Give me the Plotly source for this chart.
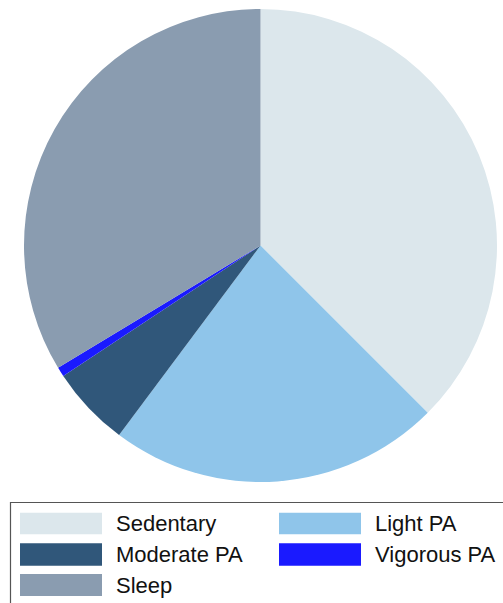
import plotly.graph_objects as go

categories = ["Sedentary", "Light PA", "Moderate PA", "Vigorous PA", "Sleep"]
values = [37.5, 22.7, 5.5, 0.65, 33.65]
colors = ["#dce7ec", "#8fc5ea", "#30577a", "#1a1aff", "#8a9cb0"]

W, H = 503, 603

fig = go.Figure(go.Pie(
    labels=categories, values=values, sort=False, direction="clockwise",
    rotation=0, marker=dict(colors=colors, line=dict(width=0)),
    textinfo="none", hoverinfo="label+percent", showlegend=False,
    domain=dict(x=[24 / W, 497 / W], y=[1 - 482 / H, 1 - 9 / H]),
))

shapes = []
annotations = []
# legend frame
shapes.append(dict(type="rect", xref="paper", yref="paper",
                   x0=10.5 / W, x1=1.2, y0=-0.2, y1=1 - 502.5 / H,
                   line=dict(color="#555555", width=1.2), fillcolor="rgba(0,0,0,0)"))
# legend order: row-major in two columns
legend_order = ["Sedentary", "Light PA", "Moderate PA", "Vigorous PA", "Sleep"]
col_x = [20, 279]
text_x = [114, 373]
row_y = [[512.7, 534.3], [543.3, 565.7], [574, 596]]
for i, name in enumerate(legend_order):
    r, c = divmod(i, 2)
    idx = categories.index(name)
    y0, y1 = row_y[r]
    shapes.append(dict(type="rect", xref="paper", yref="paper",
                       x0=col_x[c] / W, x1=(col_x[c] + 82) / W,
                       y0=1 - y1 / H, y1=1 - y0 / H,
                       line=dict(width=0), fillcolor=colors[idx]))
    annotations.append(dict(text=name, xref="paper", yref="paper",
                            x=text_x[c] / W, y=1 - (y0 + y1) / 2 / H,
                            xanchor="left", yanchor="middle", showarrow=False,
                            font=dict(family="Liberation Sans, Arial", size=22, color="#111111")))

fig.update_layout(width=W, height=H, margin=dict(l=0, r=0, t=0, b=0),
                  paper_bgcolor="white", plot_bgcolor="white",
                  shapes=shapes, annotations=annotations)
fig.write_html("out.html")
